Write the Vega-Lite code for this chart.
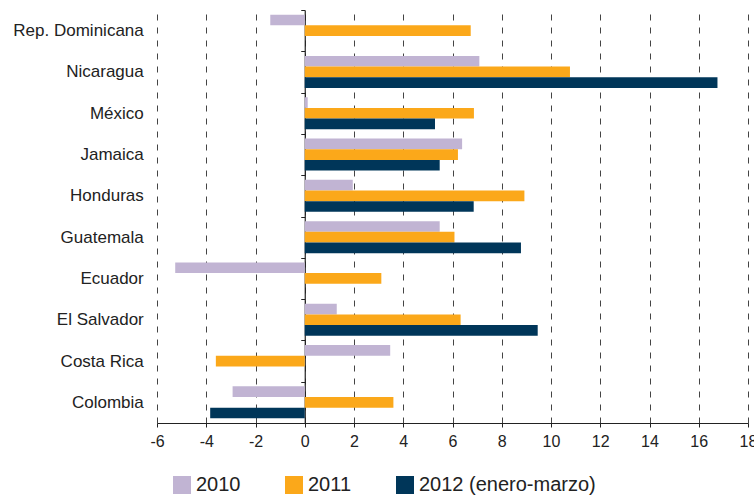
{
  "$schema": "https://vega.github.io/schema/vega-lite/v6.json",
  "autosize": "none",
  "width": 591,
  "height": 413,
  "padding": {"left": 157, "top": 10, "right": 6, "bottom": 72},
  "background": "white",
  "config": {
    "font": "Liberation Sans",
    "view": {"stroke": null}
  },
  "data": {
    "values": [
      {"pais": "Rep. Dominicana", "serie": "2010", "valor": -1.40},
      {"pais": "Rep. Dominicana", "serie": "2011", "valor": 6.74},
      {"pais": "Nicaragua", "serie": "2010", "valor": 7.09},
      {"pais": "Nicaragua", "serie": "2011", "valor": 10.77},
      {"pais": "Nicaragua", "serie": "2012 (enero-marzo)", "valor": 16.76},
      {"pais": "México", "serie": "2010", "valor": 0.12},
      {"pais": "México", "serie": "2011", "valor": 6.87},
      {"pais": "México", "serie": "2012 (enero-marzo)", "valor": 5.29},
      {"pais": "Jamaica", "serie": "2010", "valor": 6.39},
      {"pais": "Jamaica", "serie": "2011", "valor": 6.22},
      {"pais": "Jamaica", "serie": "2012 (enero-marzo)", "valor": 5.48},
      {"pais": "Honduras", "serie": "2010", "valor": 1.95},
      {"pais": "Honduras", "serie": "2011", "valor": 8.92},
      {"pais": "Honduras", "serie": "2012 (enero-marzo)", "valor": 6.86},
      {"pais": "Guatemala", "serie": "2010", "valor": 5.48},
      {"pais": "Guatemala", "serie": "2011", "valor": 6.08},
      {"pais": "Guatemala", "serie": "2012 (enero-marzo)", "valor": 8.78},
      {"pais": "Ecuador", "serie": "2010", "valor": -5.26},
      {"pais": "Ecuador", "serie": "2011", "valor": 3.11},
      {"pais": "El Salvador", "serie": "2010", "valor": 1.30},
      {"pais": "El Salvador", "serie": "2011", "valor": 6.33},
      {"pais": "El Salvador", "serie": "2012 (enero-marzo)", "valor": 9.46},
      {"pais": "Costa Rica", "serie": "2010", "valor": 3.47},
      {"pais": "Costa Rica", "serie": "2011", "valor": -3.61},
      {"pais": "Colombia", "serie": "2010", "valor": -2.93},
      {"pais": "Colombia", "serie": "2011", "valor": 3.60},
      {"pais": "Colombia", "serie": "2012 (enero-marzo)", "valor": -3.84}
    ]
  },
  "mark": {"type": "bar"},
  "encoding": {
    "y": {
      "field": "pais",
      "type": "nominal",
      "sort": ["Rep. Dominicana", "Nicaragua", "México", "Jamaica", "Honduras", "Guatemala", "Ecuador", "El Salvador", "Costa Rica", "Colombia"],
      "scale": {"paddingInner": 0.225, "paddingOuter": 0.1125},
      "axis": {
        "title": null,
        "orient": "left",
        "offset": -147.75,
        "domainColor": "#222222",
        "domainWidth": 1.2,
        "ticks": true,
        "tickColor": "#222222",
        "tickSize": 4,
        "tickOffset": -20.65,
        "labelOffset": 20.65,
        "labelPadding": 157.5,
        "labelFontSize": 17,
        "labelColor": "#222222",
        "grid": false
      }
    },
    "yOffset": {
      "field": "serie",
      "type": "nominal",
      "sort": ["2010", "2011", "2012 (enero-marzo)"]
    },
    "x": {
      "field": "valor",
      "type": "quantitative",
      "scale": {"domain": [-6, 18], "nice": false, "zero": false},
      "axis": {
        "title": null,
        "values": [-6, -4, -2, 0, 2, 4, 6, 8, 10, 12, 14, 16, 18],
        "labelExpr": "'' + datum.value",
        "domainColor": "#222222",
        "domainWidth": 1.2,
        "tickColor": "#222222",
        "tickSize": 4,
        "labelFontSize": 16,
        "labelColor": "#222222",
        "labelPadding": 6,
        "labelFlush": false,
        "grid": true,
        "gridColor": "#444444",
        "gridDash": [6, 7],
        "gridWidth": 1
      }
    },
    "color": {
      "field": "serie",
      "type": "nominal",
      "scale": {
        "domain": ["2010", "2011", "2012 (enero-marzo)"],
        "range": ["#C1B4D3", "#FBA81A", "#003659"]
      },
      "legend": {
        "title": null,
        "orient": "none",
        "direction": "horizontal",
        "legendX": 15,
        "legendY": 465,
        "symbolType": "M-1,-1H1V1H-1Z",
        "symbolSize": 324,
        "symbolStrokeWidth": 0,
        "symbolOpacity": 1,
        "labelFontSize": 20,
        "labelColor": "#222222",
        "labelOffset": 4,
        "labelLimit": 300,
        "columnPadding": 43
      }
    }
  }
}
